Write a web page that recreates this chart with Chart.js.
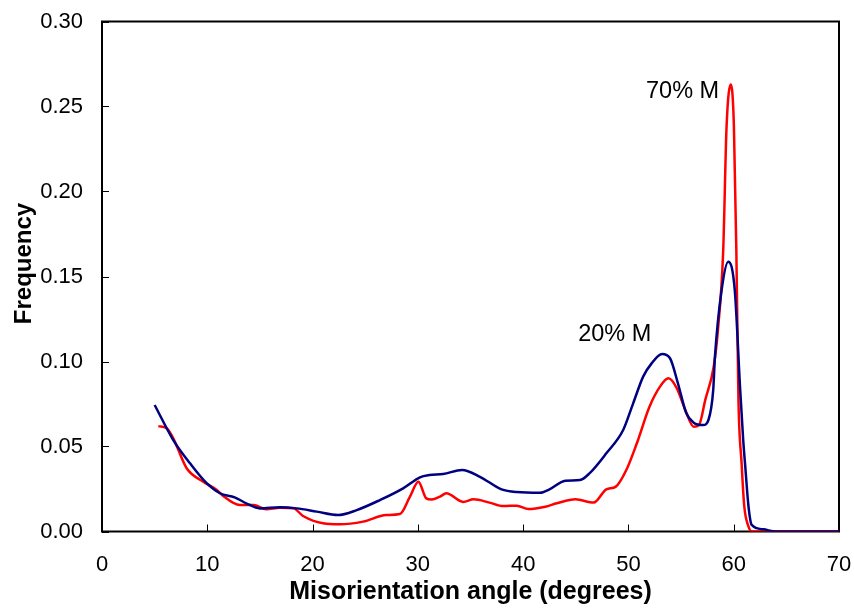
<!DOCTYPE html>
<html>
<head>
<meta charset="utf-8">
<script src="https://cdn.jsdelivr.net/npm/chart.js@4.4.1/dist/chart.umd.min.js"></script>
<style>
html,body{margin:0;padding:0;background:#fff;}
#wrap{width:854px;height:610px;}
</style>
</head>
<body>
<div id="wrap"><canvas id="c" width="854" height="610"></canvas></div>
<script>
// ---- data ----
const blueAngles = [5.0, 6.77, 8.36, 9.94, 11.2, 12.6, 13.7, 15.0, 16.9, 18.5, 20.4, 22.4, 24.2, 26.4, 28.6, 30.2, 31.1, 32.4, 34.2, 35.9, 37.95, 39.4, 41.6, 42.5, 44.0, 45.4, 46.3, 47.9, 49.5, 50.45, 51.4, 52.2, 53.2, 53.95, 54.7, 55.5, 56.2, 57.1, 57.6, 58.05, 58.22, 58.85, 59.48, 60.1, 60.6, 60.9, 61.1, 61.4, 61.7, 62.8, 64.0, 70.0];
const blueFreq   = [0.0744, 0.0538, 0.0401, 0.0284, 0.0225, 0.0201, 0.0166, 0.0136, 0.0142, 0.0136, 0.0117, 0.0097, 0.0126, 0.0185, 0.0254, 0.0319, 0.0332, 0.0338, 0.0362, 0.0322, 0.0248, 0.0232, 0.0228, 0.0248, 0.0299, 0.0303, 0.0342, 0.0460, 0.0597, 0.0754, 0.0911, 0.0989, 0.1044, 0.1019, 0.0872, 0.0695, 0.0640, 0.0626, 0.0656, 0.0830, 0.1030, 0.1420, 0.1587, 0.1420, 0.0850, 0.0540, 0.0380, 0.0150, 0.0040, 0.0013, 0.0, 0.0];

const redAngles = [5.35, 6.14, 6.77, 8.04, 9.62, 10.9, 11.4, 13.1, 14.4, 15.6, 16.9, 18.2, 19.1, 21.0, 22.6, 24.8, 27.0, 28.3, 29.25, 30.05, 30.8, 31.3, 32.1, 32.7, 34.3, 35.3, 36.8, 38.1, 39.4, 40.5, 42.1, 43.2, 44.97, 46.7, 47.9, 48.8, 49.8, 50.8, 52.0, 53.0, 53.8, 54.6, 55.4, 56.2, 56.7, 57.3, 58.1, 58.5, 59.0, 59.32, 59.73, 60.02, 60.25, 60.45, 60.75, 61.0, 61.4, 61.7, 70.0];
const redFreq   = [0.062, 0.0607, 0.0548, 0.0372, 0.0293, 0.0244, 0.0215, 0.0156, 0.0156, 0.0131, 0.0140, 0.0136, 0.0091, 0.0048, 0.0042, 0.0058, 0.0097, 0.0103, 0.0205, 0.0293, 0.0195, 0.0188, 0.0205, 0.0225, 0.0174, 0.0189, 0.0170, 0.0150, 0.0152, 0.0132, 0.0146, 0.0166, 0.0189, 0.0170, 0.0248, 0.0264, 0.0362, 0.0519, 0.0734, 0.0852, 0.0901, 0.0842, 0.0715, 0.0616, 0.0626, 0.0774, 0.0970, 0.1185, 0.1650, 0.2380, 0.2630, 0.2380, 0.1650, 0.0774, 0.0400, 0.0150, 0.0030, 0.0, 0.0];

const xTicks = [0, 10, 20, 30, 40, 50, 60, 70];
const yTicks = [0.00, 0.05, 0.10, 0.15, 0.20, 0.25, 0.30];
const seriesNames = ['20% M', '70% M'];
const labelTexts = ['20% M', '70% M'];
const labelAnchors = [[45.23, 0.1156], [58.62, 0.2587]];
const yTitle = 'Frequency';
const xTitle = 'Misorientation angle (degrees)';

const toPts = (xs, ys) => xs.map((x, i) => ({x: x, y: ys[i]}));

const framePlugin = {
  id: 'frame',
  beforeDatasetsDraw(chart) {
    const {ctx, chartArea: a, scales} = chart;
    ctx.save();
    ctx.strokeStyle = '#000';
    ctx.lineWidth = 1;
    ctx.beginPath();
    xTicks.forEach(v => {
      const px = Math.round(scales.x.getPixelForValue(v)) + 0.5;
      ctx.moveTo(px, a.bottom);
      ctx.lineTo(px, a.bottom - 7);
    });
    yTicks.forEach(v => {
      const py = Math.round(scales.y.getPixelForValue(v)) + 0.5;
      ctx.moveTo(a.left, py);
      ctx.lineTo(a.left + 7, py);
    });
    ctx.stroke();
    ctx.lineWidth = 2;
    ctx.strokeRect(a.left, a.top, a.right - a.left, a.bottom - a.top);
    // y axis title
    ctx.fillStyle = '#000';
    ctx.font = 'bold 24px "Liberation Sans", Arial, sans-serif';
    ctx.textAlign = 'center';
    ctx.textBaseline = 'middle';
    ctx.translate(24, 263.5);
    ctx.rotate(-Math.PI / 2);
    ctx.fillText(yTitle, 0, 0);
    ctx.restore();
  },
  afterDatasetsDraw(chart) {
    const {ctx, scales} = chart;
    ctx.save();
    ctx.fillStyle = '#000';
    ctx.font = '23.5px "Liberation Sans", Arial, sans-serif';
    ctx.textBaseline = 'middle';
    labelTexts.forEach((t, i) => {
      const [lx, ly] = labelAnchors[i];
      ctx.textAlign = i === 1 ? 'right' : 'left';
      ctx.fillText(t, scales.x.getPixelForValue(lx), scales.y.getPixelForValue(ly));
    });
    ctx.restore();
  }
};

new Chart(document.getElementById('c'), {
  type: 'line',
  data: {
    datasets: [
      {label: seriesNames[0], data: toPts(blueAngles, blueFreq), borderColor: '#000080', borderWidth: 2.5, pointRadius: 0, fill: false, cubicInterpolationMode: 'monotone'},
      {label: seriesNames[1], data: toPts(redAngles, redFreq), borderColor: '#FF0000', borderWidth: 2.5, pointRadius: 0, fill: false, cubicInterpolationMode: 'monotone'}
    ]
  },
  options: {
    responsive: false,
    animation: false,
    events: [],
    layout: {padding: {top: 21.5, right: 15, left: 0, bottom: 0}},
    plugins: {legend: {display: false}, tooltip: {enabled: false}},
    scales: {
      x: {
        type: 'linear', min: 0, max: 70,
        afterFit(s) { s.height = 78.5; s.paddingLeft = 0; s.paddingRight = 0; },
        afterBuildTicks(s) { s.ticks = xTicks.map(v => ({value: v})); },
        grid: {display: false, drawTicks: false, tickLength: 0},
        border: {display: false},
        ticks: {color: '#000', padding: 20, font: {family: '"Liberation Sans", Arial, sans-serif', size: 22}, maxRotation: 0, callback: v => String(v)},
        title: {display: true, text: xTitle, color: '#000', font: {family: '"Liberation Sans", Arial, sans-serif', size: 25, weight: 'bold'}, padding: {top: 0, bottom: 3}}
      },
      y: {
        type: 'linear', min: 0, max: 0.30,
        afterFit(s) { s.width = 102; s.paddingTop = 0; s.paddingBottom = 0; },
        afterBuildTicks(s) { s.ticks = yTicks.map(v => ({value: v})); },
        grid: {display: false, drawTicks: false, tickLength: 0},
        border: {display: false},
        ticks: {color: '#000', padding: 19, font: {family: '"Liberation Sans", Arial, sans-serif', size: 22}, callback: v => Number(v).toFixed(2)},
        title: {display: false}
      }
    }
  },
  plugins: [framePlugin]
});
</script>
</body>
</html>
